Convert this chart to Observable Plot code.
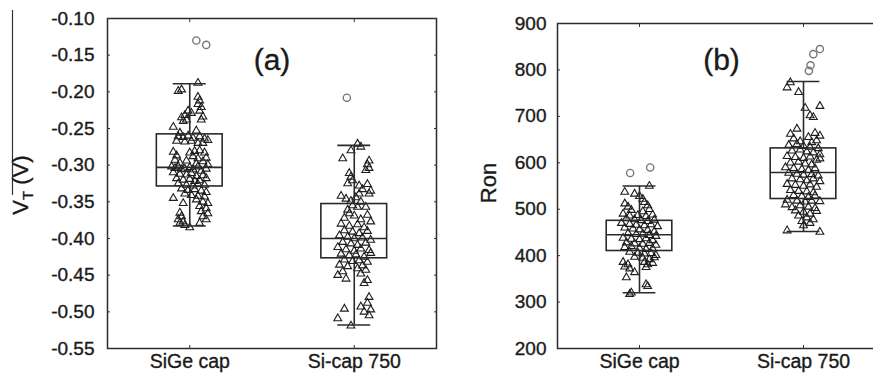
<!DOCTYPE html>
<html><head><meta charset="utf-8">
<script src="https://cdn.jsdelivr.net/npm/d3@7"></script>
<script src="https://cdn.jsdelivr.net/npm/@observablehq/plot@0.6"></script>
<style>
html,body{margin:0;padding:0;background:#fff;overflow:hidden;}
#wrap{position:relative;width:873px;height:380px;overflow:hidden;font-family:"Liberation Sans",Arial,sans-serif;}
#wrap svg{position:absolute;top:0;}
#wrap text{stroke:#1a1a1a;stroke-width:0.35px;}
</style></head><body><div id="wrap"></div>
<script>
// ---------- data ----------
const categories = ["SiGe cap", "Si-cap 750"];
const vtTicks = [-0.55, -0.50, -0.45, -0.40, -0.35, -0.30, -0.25, -0.20, -0.15, -0.10];
const ronTicks = [200, 300, 400, 500, 600, 700, 800, 900];
const panelLabels = ["(a)", "(b)"];

// box statistics per category [SiGe cap, Si-cap 750]
const vtLow    = [-0.383, -0.518];
const vtQ1     = [-0.329, -0.427];
const vtMedian = [-0.303, -0.400];
const vtQ3     = [-0.258, -0.353];
const vtHigh   = [-0.189, -0.273];
const ronLow    = [320, 452];
const ronQ1     = [410, 522];
const ronMedian = [445, 579];
const ronQ3     = [475, 631];
const ronHigh   = [550, 775];

// outliers [jitter, value]
const vtOutSiGe  = [[0.04, -0.130], [0.10, -0.136]];
const vtOutSi    = [[-0.045, -0.208]];
const ronOutSiGe = [[-0.057, 578], [0.065, 590]];
const ronOutSi   = [[0.10, 845], [0.06, 834], [0.043, 810], [0.033, 798]];

// jittered observations [jitter, value]
const vtSiGe = [[0.05,-0.188],[-0.05,-0.197],[-0.07,-0.199],[0.05,-0.207],[0.06,-0.212],[0.05,-0.217],[0.07,-0.221],[0.06,-0.226],[0.08,-0.234],[-0.01,-0.226],[0.01,-0.229],[-0.03,-0.232],[-0.05,-0.235],[-0.02,-0.238],[-0.04,-0.24],[0.07,-0.238],[-0.1,-0.248],[-0.06,-0.256],[0.04,-0.253],
[-0.07,-0.261],[-0.04,-0.262],[-0.01,-0.26],[0.02,-0.263],[0.06,-0.261],[0.09,-0.264],[0.11,-0.266],[-0.08,-0.267],[-0.03,-0.268],[0.01,-0.267],[0.05,-0.27],[0.08,-0.27],
[-0.1,-0.282],[-0.08,-0.287],[-0.09,-0.293],[-0.06,-0.297],[0.0,-0.283],[0.03,-0.281],[0.06,-0.28],[0.09,-0.283],[0.1,-0.29],[0.02,-0.288],[0.05,-0.291],[0.08,-0.295],[-0.02,-0.294],[0.04,-0.298],[0.11,-0.299],
[-0.11,-0.302],[-0.09,-0.304],[-0.07,-0.302],[-0.05,-0.306],[-0.03,-0.305],[0.0,-0.303],[0.02,-0.306],[0.05,-0.302],[0.07,-0.308],[0.1,-0.305],[-0.1,-0.31],[-0.06,-0.312],[-0.02,-0.313],[0.01,-0.311],[0.04,-0.315],[0.08,-0.314],[-0.08,-0.318],[-0.04,-0.32],[0.0,-0.319],[0.03,-0.322],[0.06,-0.321],[0.1,-0.318],[-0.07,-0.325],[-0.02,-0.327],[0.02,-0.328],[0.05,-0.326],[0.09,-0.327],
[-0.05,-0.332],[-0.01,-0.334],[0.03,-0.333],[0.07,-0.335],[0.1,-0.337],[-0.03,-0.339],[0.01,-0.341],[0.05,-0.342],[0.09,-0.343],[-0.1,-0.345],[0.04,-0.347],[0.08,-0.35],[-0.04,-0.352],[0.11,-0.352],[0.06,-0.356],[0.1,-0.359],[0.07,-0.363],[0.11,-0.366],[0.08,-0.37],[0.1,-0.374],[-0.06,-0.365],[-0.05,-0.37],[-0.07,-0.374],[-0.04,-0.377],[-0.06,-0.379],[-0.03,-0.382],[0.0,-0.385],[0.06,-0.379]];

const vtSi = [[0.02,-0.271],[0.04,-0.275],[-0.02,-0.28],[-0.07,-0.291],[0.09,-0.294],[0.08,-0.299],[0.09,-0.304],[0.07,-0.307],[-0.03,-0.311],[-0.02,-0.316],[-0.01,-0.321],[-0.04,-0.325],[0.03,-0.328],[0.05,-0.333],[0.08,-0.326],[0.1,-0.335],[0.09,-0.339],[0.03,-0.339],[-0.08,-0.342],[-0.05,-0.346],[-0.02,-0.349],[0.01,-0.344],[0.04,-0.35],[-0.01,-0.355],[0.02,-0.357],[0.07,-0.357],[-0.04,-0.361],[-0.03,-0.366],[0.0,-0.369],[0.08,-0.368],[-0.06,-0.372],[0.04,-0.374],[0.1,-0.377],[-0.08,-0.38],[-0.03,-0.383],[0.02,-0.381],[0.06,-0.385],[-0.06,-0.389],[-0.01,-0.391],[0.03,-0.393],[0.08,-0.39],[-0.09,-0.396],[-0.04,-0.398],[0.0,-0.4],[0.05,-0.399],[0.1,-0.402],[-0.07,-0.405],[-0.02,-0.407],[0.02,-0.409],[0.07,-0.406],[-0.1,-0.412],[-0.05,-0.415],[0.0,-0.417],[0.04,-0.414],[0.09,-0.416],[-0.08,-0.421],[-0.03,-0.423],[0.01,-0.422],[0.06,-0.425],[0.1,-0.42],[-0.06,-0.429],[-0.01,-0.431],[0.03,-0.43],[0.08,-0.432],[-0.09,-0.436],[-0.04,-0.438],[0.05,-0.437],[0.02,-0.441],[0.07,-0.443],[-0.07,-0.445],[-0.1,-0.45],[-0.05,-0.455],[0.04,-0.448],[0.08,-0.457],[0.06,-0.461],[0.09,-0.48],[0.08,-0.488],[0.04,-0.493],[0.1,-0.497],[0.06,-0.5],[0.09,-0.505],[-0.06,-0.496],[-0.1,-0.509],[-0.02,-0.519]];

const ronSiGe = [[0.06,550],[-0.09,537],[-0.03,533],[0.0,528],[0.02,522],[0.03,515],[-0.09,512],[-0.07,505],[0.05,508],[0.06,500],[-0.05,498],[0.02,495],[-0.1,490],[-0.06,486],[-0.01,487],[0.04,485],[0.08,488],[-0.08,480],[-0.03,478],[0.01,476],[0.05,474],[0.09,477],[-0.11,470],[-0.06,468],[-0.02,466],[0.03,465],[0.07,467],[0.11,463],[-0.09,460],[-0.04,458],[0.0,456],[0.05,455],[0.09,452],[-0.07,448],[-0.02,446],[0.02,447],[0.06,444],[0.1,442],[-0.1,438],[-0.05,436],[0.0,435],[0.04,437],[0.08,433],[-0.08,428],[-0.03,426],[0.02,425],[0.06,427],[0.1,423],[-0.09,418],[-0.05,420],[0.0,416],[0.04,414],[0.08,415],[-0.06,408],[-0.01,406],[0.03,404],[0.07,405],[0.1,401],[-0.03,397],[0.02,395],[0.06,392],[0.09,396],[-0.1,386],[-0.07,381],[0.03,386],[0.05,381],[0.08,384],[-0.09,376],[-0.06,372],[0.04,375],[-0.03,364],[-0.08,353],[0.04,338],[0.05,334],[-0.05,320],[-0.06,317]];

const ronSi = [[-0.08,773],[-0.1,762],[-0.03,752],[0.01,718],[0.1,722],[0.04,702],[0.06,698],[-0.04,673],[-0.08,662],[0.07,664],[0.1,658],[-0.06,652],[0.03,655],[-0.02,646],[0.05,644],[0.08,648],[-0.09,638],[-0.04,640],[0.0,636],[0.04,634],[0.09,631],[-0.07,626],[-0.02,628],[0.02,624],[0.06,622],[0.1,618],[-0.1,614],[-0.05,612],[0.0,610],[0.04,613],[0.08,606],[-0.08,600],[-0.03,602],[0.01,598],[0.05,596],[0.1,609],[-0.11,590],[-0.06,588],[-0.01,586],[0.03,584],[0.07,588],[-0.09,578],[-0.04,576],[0.0,574],[0.05,575],[0.09,572],[-0.07,566],[-0.02,564],[0.02,562],[0.06,566],[0.1,560],[-0.1,554],[-0.05,552],[0.0,550],[0.04,553],[0.08,548],[-0.08,541],[-0.03,539],[0.02,538],[0.06,536],[-0.06,530],[-0.01,528],[0.03,526],[0.07,529],[-0.1,520],[-0.04,518],[0.01,516],[0.05,518],[0.1,517],[-0.11,510],[-0.07,504],[-0.02,508],[0.03,505],[0.07,502],[-0.05,497],[0.0,494],[0.04,490],[0.08,496],[-0.03,486],[0.02,482],[0.06,478],[-0.01,474],[0.04,470],[0.0,465],[-0.1,454],[0.1,451]];

// ---------- drawing ----------
const INK = "#1a1a1a";
const FONT = "Liberation Sans, Arial, sans-serif";

function toRows(groups) {
  return groups.flatMap((g, i) => g.map(([j, v]) => ({i, j, v})));
}
function statRows(low, q1, med, q3, high) {
  return categories.map((c, i) => ({i, low: low[i], q1: q1[i], med: med[i], q3: q3[i], high: high[i]}));
}

function panel({ticks, fmt, stats, points, outliers, label, width, marginLeft, marginTop, tickPadding, labelDy}) {
  const boxHalf = 0.2, capHalf = 0.1;
  return Plot.plot({
    width, height: 380,
    marginLeft, marginRight: 4, marginTop, marginBottom: 32,
    style: {background: "transparent", color: INK, fontFamily: FONT, overflow: "visible"},
    x: {domain: [0, 2]},
    y: {domain: [ticks[0], ticks[ticks.length - 1]]},
    marks: [
      Plot.dot(points, {x: d => d.i + 0.5 + d.j, y: "v", symbol: "triangle", r: 2.9, stroke: "#1e1e1e", strokeWidth: 1.1, fill: "none"}),
      Plot.dot(outliers, {x: d => d.i + 0.5 + d.j, y: "v", r: 3.6, stroke: "#777", strokeWidth: 1.4, fill: "none"}),
      Plot.rect(stats, {x1: d => d.i + 0.5 - boxHalf, x2: d => d.i + 0.5 + boxHalf, y1: "q1", y2: "q3", fill: "none", stroke: "#2a2a2a", strokeWidth: 1.6}),
      Plot.ruleY(stats, {y: "med", x1: d => d.i + 0.5 - boxHalf, x2: d => d.i + 0.5 + boxHalf, stroke: "#2a2a2a", strokeWidth: 1.6}),
      Plot.ruleX(stats, {x: d => d.i + 0.5, y1: "q3", y2: "high", stroke: "#2a2a2a", strokeWidth: 1.6}),
      Plot.ruleX(stats, {x: d => d.i + 0.5, y1: "q1", y2: "low", stroke: "#2a2a2a", strokeWidth: 1.6}),
      Plot.ruleY(stats, {y: "high", x1: d => d.i + 0.5 - capHalf, x2: d => d.i + 0.5 + capHalf, stroke: "#2a2a2a", strokeWidth: 1.6}),
      Plot.ruleY(stats, {y: "low", x1: d => d.i + 0.5 - capHalf, x2: d => d.i + 0.5 + capHalf, stroke: "#2a2a2a", strokeWidth: 1.6}),
      Plot.frame({stroke: "#2a2a2a", strokeWidth: 1.5}),
      Plot.axisY({ticks, tickFormat: fmt, tickSize: 3, dx: 3, tickPadding, fontSize: 19, label: null, stroke: "#333"}),
      Plot.axisY({anchor: "right", ticks, tickFormat: () => "", tickSize: 3, dx: -3, label: null, stroke: "#333"}),
      Plot.axisX({ticks: [0.5, 1.5], tickFormat: d => categories[Math.round(d - 0.5)], tickSize: 3, dy: -3, tickPadding: 6, fontSize: 19.5, label: null, stroke: "#333"}),
      Plot.axisX({anchor: "top", ticks: [0.5, 1.5], tickFormat: () => "", tickSize: 3, dy: 3, label: null, stroke: "#333"}),
      Plot.text([label], {frameAnchor: "top", dy: labelDy, text: d => d, fontSize: 30, fill: INK})
    ]
  });
}

const wrap = document.getElementById("wrap");

const pa = panel({
  ticks: vtTicks, fmt: d => d.toFixed(2),
  stats: statRows(vtLow, vtQ1, vtMedian, vtQ3, vtHigh),
  points: toRows([vtSiGe, vtSi]),
  outliers: toRows([vtOutSiGe, vtOutSi]),
  label: panelLabels[0], width: 440, marginLeft: 107, marginTop: 18, tickPadding: 13, labelDy: 30
});
pa.style.left = "0px";
wrap.appendChild(pa);

const pb = panel({
  ticks: ronTicks, fmt: d => String(d),
  stats: statRows(ronLow, ronQ1, ronMedian, ronQ3, ronHigh),
  points: toRows([ronSiGe, ronSi]),
  outliers: toRows([ronOutSiGe, ronOutSi]),
  label: panelLabels[1], width: 452, marginLeft: 120, marginTop: 23, tickPadding: 11, labelDy: 25
});
pb.style.left = "437px";
wrap.appendChild(pb);

// axis titles overlay
const ns = "http://www.w3.org/2000/svg";
const ov = document.createElementNS(ns, "svg");
ov.setAttribute("width", 873); ov.setAttribute("height", 380);
ov.style.left = "0px";
ov.innerHTML = `
  <line x1="12.5" x2="12.5" y1="10" y2="195" stroke="#333" stroke-width="1.2"/>
  <text transform="translate(28,185) rotate(-90)" text-anchor="middle" font-family="${FONT}" font-size="22" fill="${INK}">V<tspan font-size="15" dy="5">T</tspan><tspan dy="-5"> (V)</tspan></text>
  <text transform="translate(496,183) rotate(-90)" text-anchor="middle" font-family="${FONT}" font-size="22" fill="${INK}">Ron</text>`;
wrap.appendChild(ov);
</script></body></html>
